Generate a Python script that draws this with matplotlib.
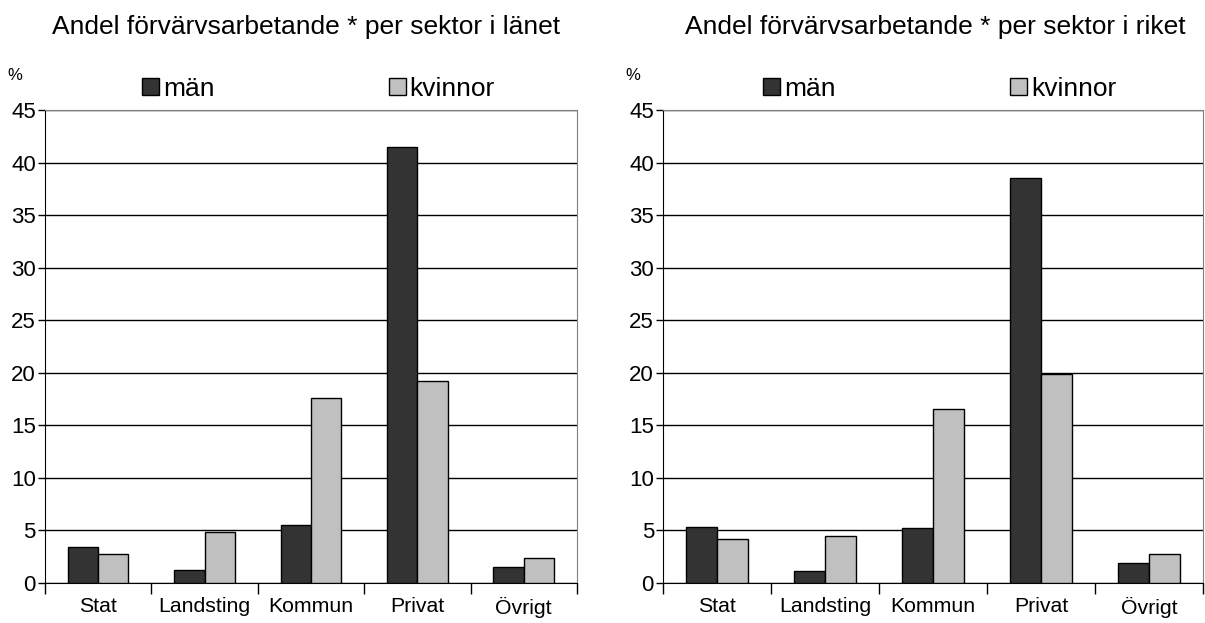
import numpy as np
import matplotlib.pyplot as plt
from matplotlib.patches import Patch

plt.rcParams['font.family'] = ['Liberation Sans', 'DejaVu Sans']

sektorer = ['Stat', 'Landsting', 'Kommun', 'Privat', 'Övrigt']
lan_man = [3.4, 1.2, 5.5, 41.5, 1.5]
lan_kvinnor = [2.8, 4.9, 17.6, 19.2, 2.4]
rike_man = [5.3, 1.1, 5.2, 38.5, 1.9]
rike_kvinnor = [4.2, 4.5, 16.6, 19.9, 2.8]
titlar = ['Andel förvärvsarbetande * per sektor i länet',
          'Andel förvärvsarbetande * per sektor i riket']

fig = plt.figure(figsize=(12.05, 6.23), dpi=100)
ax1 = fig.add_axes([0.0373, 0.0642, 0.4415, 0.759])
ax2 = fig.add_axes([0.5502, 0.0642, 0.4482, 0.759])

x = np.arange(len(sektorer))
w = 0.285

for ax, man, kvinnor, titel, lx, tx in [(ax1, lan_man, lan_kvinnor, titlar[0], 0.182, 0.49),
                                        (ax2, rike_man, rike_kvinnor, titlar[1], 0.185, 0.505)]:
    ax.bar(x - w / 2, man, w, color='#333333', edgecolor='black', linewidth=1, zorder=3)
    ax.bar(x + w / 2, kvinnor, w, color='#c0c0c0', edgecolor='black', linewidth=1, zorder=3)
    ax.set_xlim(-0.5, len(sektorer) - 0.5)
    ax.set_ylim(0, 45)
    ax.set_yticks(range(0, 50, 5))
    ax.yaxis.grid(True, color='black', linewidth=1)
    ax.set_axisbelow(True)
    ax.set_xticks(np.arange(-0.5, len(sektorer), 1))
    ax.set_xticklabels([])
    ax.set_xticks(x, minor=True)
    ax.set_xticklabels(sektorer, minor=True, fontsize=15.3)
    ax.tick_params(axis='x', which='major', length=8, width=1, direction='out')
    ax.tick_params(axis='x', which='minor', length=0, pad=10)
    ax.tick_params(axis='y', length=5, width=1, labelsize=16, pad=1.5)
    ax.spines['top'].set_color('#808080')
    ax.spines['right'].set_color('#808080')
    ax.spines['left'].set_color('black')
    ax.spines['bottom'].set_color('black')
    ax.text(tx, 1.175, titel, transform=ax.transAxes, ha='center', va='center', fontsize=19)
    ax.text(-0.056, 1.074, '%', transform=ax.transAxes, ha='center', va='center', fontsize=12)
    handles = [Patch(facecolor='#333333', edgecolor='black', label='män'),
               Patch(facecolor='#c0c0c0', edgecolor='black', label='kvinnor')]
    ax.legend(handles=handles, ncol=2, loc='center left', bbox_to_anchor=(lx, 1.045),
              frameon=False, fontsize=19, handlelength=0.65, handleheight=0.65,
              handletextpad=0.15, columnspacing=6.6, borderaxespad=0, borderpad=0)

fig.savefig('out.png', dpi=100)
